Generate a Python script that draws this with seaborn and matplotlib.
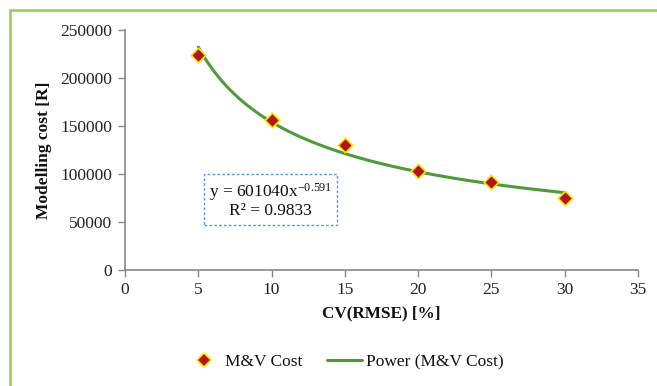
import numpy as np
import pandas as pd
import seaborn as sns
import matplotlib
matplotlib.use("Agg")
import matplotlib.pyplot as plt
from matplotlib.patches import Rectangle
from matplotlib.lines import Line2D

# Data
cv_rmse = [5, 10, 15, 20, 25, 30]
mv_cost = [224000, 156000, 130000, 103000, 92000, 75000]
# Power trendline coefficients shown on the chart
trend_coef = 601040
trend_exp = -0.591
x_ticks = [0, 5, 10, 15, 20, 25, 30, 35]
y_ticks = [0, 50000, 100000, 150000, 200000, 250000]

sns.set_theme(style="white")
plt.rcParams['font.family'] = ['Liberation Serif', 'DejaVu Serif']
plt.rcParams['mathtext.fontset'] = 'custom'
plt.rcParams['mathtext.rm'] = 'Liberation Serif'
plt.rcParams['mathtext.it'] = 'Liberation Serif:italic'
plt.rcParams['mathtext.bf'] = 'Liberation Serif:bold'

fig = plt.figure(figsize=(6.57, 3.86), dpi=100)
ax = fig.add_axes([125/657, 1 - 270/386, (638-125)/657, (270-30)/386])

df = pd.DataFrame({"cv": cv_rmse, "cost": mv_cost})
xs = np.linspace(min(cv_rmse), max(cv_rmse), 200)
trend = pd.DataFrame({"cv": xs, "cost": trend_coef * xs ** trend_exp})

sns.lineplot(data=trend, x="cv", y="cost", ax=ax, color="#4f9a3a", linewidth=2.2, zorder=2)
sns.scatterplot(data=df, x="cv", y="cost", ax=ax, marker="D", s=55,
                color="#b0151c", edgecolor="#ffe600", linewidth=1.2, zorder=3)

ax.set_xlim(0, 35)
ax.set_ylim(0, 250000)
ax.set_xticks(x_ticks)
ax.set_yticks(y_ticks)
ax.set_xticklabels([str(v) for v in x_ticks])
ax.set_yticklabels([str(v) for v in y_ticks])
ax.tick_params(axis="both", labelsize=12.5, length=5, width=1,
               direction="out", bottom=True, left=True, pad=4)
ax.tick_params(axis="both", colors="#888888", labelcolor="#222222")
for s in ["top", "right"]:
    ax.spines[s].set_visible(False)
for s in ["left", "bottom"]:
    ax.spines[s].set_color("#888888")
    ax.spines[s].set_linewidth(1.2)

ax.set_xlabel("CV(RMSE) [%]", fontsize=12.3, fontweight="bold", labelpad=5, color="#111111")
ax.set_ylabel("Modelling cost [R]", fontsize=12.5, fontweight="bold", labelpad=6, color="#111111")

ax.text(9.9, 72500, "y = 601040x$^{\\mathregular{-0.591}}$\nR² = 0.9833", ha="center", va="center",
        fontsize=12.5, linespacing=1.0, color="#111111",
        bbox=dict(boxstyle="square,pad=0.3", facecolor="white", edgecolor="#5b9bd5",
                  linestyle=(0, (2, 1.5)), linewidth=1))

handles = [
    Line2D([], [], marker="D", linestyle="none", markersize=7,
           markerfacecolor="#b0151c", markeredgecolor="#ffe600", markeredgewidth=1.2),
    Line2D([], [], color="#4f9a3a", linewidth=2.2),
]
fig.legend(handles, ["M&V Cost", "Power (M&V Cost)"], loc="center",
           bbox_to_anchor=(345/657, 1 - 362/386), ncol=2, frameon=False,
           fontsize=12.5, handlelength=2.0, columnspacing=1.45, handletextpad=0.2,
           labelcolor="#111111")

fig.patches.append(Rectangle((10/657, -0.1), 1.2, 0.1 + 1 - 10/386, transform=fig.transFigure,
                             fill=False, edgecolor="#9dc85a", linewidth=1.8, figure=fig))

fig.savefig("out.png", dpi=100, facecolor="white")
